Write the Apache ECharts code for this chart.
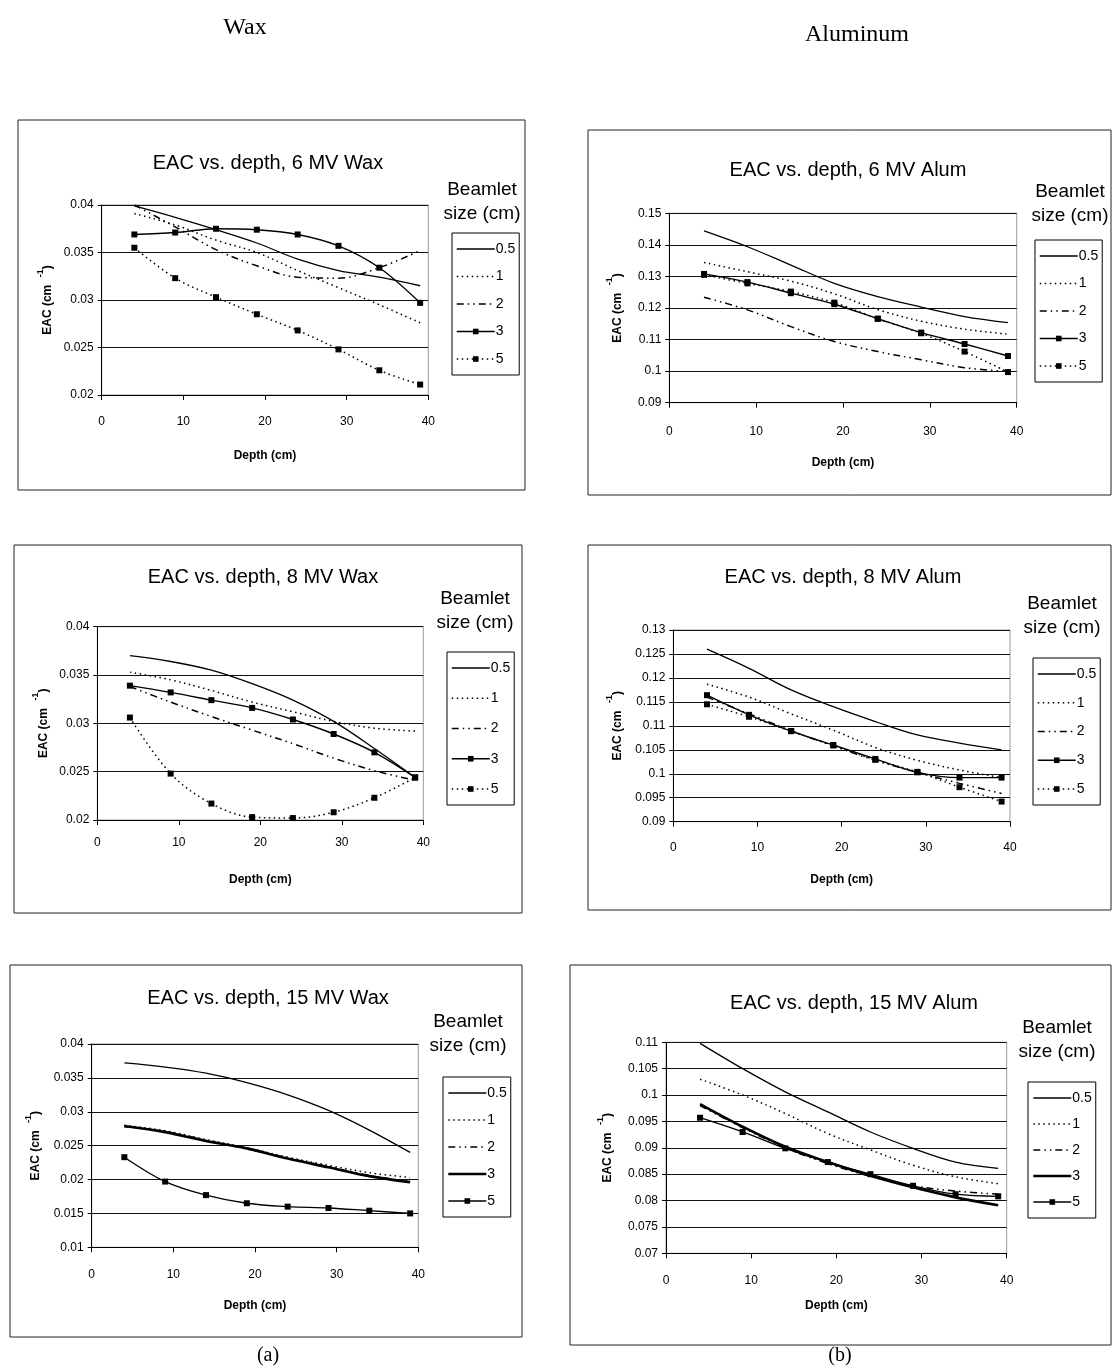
<!DOCTYPE html>
<html>
<head>
<meta charset="utf-8">
<script src="https://cdn.jsdelivr.net/npm/echarts@6/dist/echarts.min.js"></script>
<style>
html,body{margin:0;padding:0;background:#fff;}
#chart{width:1113px;height:1369px;}
</style>
</head>
<body>
<div id="chart"></div>
<script>
// ---------- data ----------
const depth = [4, 9, 14, 19, 24, 29, 34, 39];
const beamletSizes = ['0.5', '1', '2', '3', '5'];
const xTicks = [0, 10, 20, 30, 40];

// 6 MV Wax
const wax6_05 = [0.0399, 0.0387, 0.0374, 0.0360, 0.0343, 0.0331, 0.0324, 0.0315];
const wax6_1  = [0.0391, 0.0379, 0.0363, 0.0350, 0.0331, 0.0313, 0.0295, 0.0276];
const wax6_2  = [0.0400, 0.0377, 0.0353, 0.0336, 0.0324, 0.0323, 0.0334, 0.0352];
const wax6_3  = [0.0369, 0.0371, 0.0375, 0.0374, 0.0369, 0.0357, 0.0334, 0.0297];
const wax6_5  = [0.0355, 0.0323, 0.0303, 0.0285, 0.0268, 0.0248, 0.0226, 0.0211];
// 6 MV Alum
const al6_05 = [0.1444, 0.1394, 0.1336, 0.1278, 0.1236, 0.1203, 0.1173, 0.1154];
const al6_1  = [0.1344, 0.1315, 0.1285, 0.1245, 0.1195, 0.1158, 0.1133, 0.1117];
const al6_2  = [0.1234, 0.1194, 0.1141, 0.1094, 0.1062, 0.1036, 0.1011, 0.0999];
const al6_3  = [0.1308, 0.1282, 0.1247, 0.1212, 0.1166, 0.1122, 0.1086, 0.1048];
const al6_5  = [0.1305, 0.1278, 0.1252, 0.1217, 0.1166, 0.1120, 0.1062, 0.0997];
// 8 MV Wax
const wax8_05 = [0.0370, 0.0364, 0.0355, 0.0341, 0.0324, 0.0302, 0.0274, 0.0244];
const wax8_1  = [0.0353, 0.0345, 0.0334, 0.0322, 0.0312, 0.0302, 0.0295, 0.0292];
const wax8_2  = [0.0338, 0.0322, 0.0307, 0.0293, 0.0279, 0.0264, 0.0251, 0.0241];
const wax8_3  = [0.0339, 0.0332, 0.0324, 0.0316, 0.0304, 0.0289, 0.0270, 0.0244];
const wax8_5  = [0.0306, 0.0248, 0.0217, 0.0203, 0.0202, 0.0208, 0.0223, 0.0244];
// 8 MV Alum
const al8_05 = [0.1260, 0.1220, 0.1175, 0.1140, 0.1109, 0.1081, 0.1064, 0.1050];
const al8_1  = [0.1187, 0.1160, 0.1125, 0.1091, 0.1055, 0.1028, 0.1008, 0.0992];
const al8_2  = [0.1160, 0.1125, 0.1090, 0.1058, 0.1028, 0.1003, 0.0980, 0.0959];
const al8_3  = [0.1164, 0.1123, 0.1089, 0.1060, 0.1031, 0.1003, 0.0992, 0.0992];
const al8_5  = [0.1145, 0.1119, 0.1089, 0.1059, 0.1029, 0.1004, 0.0972, 0.0942];
// 15 MV Wax
const wax15_05 = [0.0372, 0.0366, 0.0357, 0.0343, 0.0325, 0.0302, 0.0273, 0.0240];
const wax15_1  = [0.0280, 0.0272, 0.0259, 0.0247, 0.0233, 0.0221, 0.0210, 0.0203];
const wax15_2  = [0.0278, 0.0271, 0.0258, 0.0245, 0.0232, 0.0219, 0.0206, 0.0197];
const wax15_3  = [0.0279, 0.0270, 0.0257, 0.0246, 0.0231, 0.0218, 0.0205, 0.0196];
const wax15_5  = [0.0233, 0.0197, 0.0177, 0.0165, 0.0160, 0.0158, 0.0154, 0.0150];
// 15 MV Alum
const al15_05 = [0.1098, 0.1050, 0.1006, 0.0968, 0.0930, 0.0899, 0.0873, 0.0861];
const al15_1  = [0.1030, 0.1000, 0.0965, 0.0927, 0.0896, 0.0867, 0.0845, 0.0832];
const al15_2  = [0.0980, 0.0938, 0.0900, 0.0870, 0.0846, 0.0828, 0.0818, 0.0812];
const al15_3  = [0.0983, 0.0940, 0.0902, 0.0873, 0.0847, 0.0825, 0.0806, 0.0791];
const al15_5  = [0.0957, 0.0930, 0.0899, 0.0873, 0.0850, 0.0828, 0.0812, 0.0808];

const panelTitles = ['EAC vs. depth, 6 MV Wax', 'EAC vs. depth, 6 MV Alum',
  'EAC vs. depth, 8 MV Wax', 'EAC vs. depth, 8 MV Alum',
  'EAC vs. depth, 15 MV Wax', 'EAC vs. depth, 15 MV Alum'];
const yMins = [0.02, 0.09, 0.02, 0.09, 0.01, 0.07];
const yMaxs = [0.04, 0.15, 0.04, 0.13, 0.04, 0.11];
const yIntervals = [0.005, 0.01, 0.005, 0.005, 0.005, 0.005];

// ---------- layout / style ----------
const panelData = [
  [wax6_05, wax6_1, wax6_2, wax6_3, wax6_5],
  [al6_05, al6_1, al6_2, al6_3, al6_5],
  [wax8_05, wax8_1, wax8_2, wax8_3, wax8_5],
  [al8_05, al8_1, al8_2, al8_3, al8_5],
  [wax15_05, wax15_1, wax15_2, wax15_3, wax15_5],
  [al15_05, al15_1, al15_2, al15_3, al15_5]
];
const layout = [
  {grid:[101.7,205,326.6,190], box:[18,120,507,370], title:[268,163], beam:[482,190], legend:[452,233,142], xGap:55, yGap:48, lblM:21},
  {grid:[669.3,213.3,347.4,189.4], box:[588,130,523,365], title:[848,170], beam:[1070,192], legend:[1035,240,142], xGap:54, yGap:46, lblM:23},
  {grid:[97.3,626.7,326,193.3], box:[14,545,508,368], title:[263,577], beam:[475,599], legend:[447,652,153], xGap:54, yGap:48, lblM:17},
  {grid:[673.3,630,336.7,191.7], box:[588,545,523,365], title:[843,577], beam:[1062,604], legend:[1033,658,147], xGap:52, yGap:50, lblM:20},
  {grid:[91.7,1044,326.6,203.3], box:[10,965,512,372], title:[268,998], beam:[468,1022], legend:[443,1077,140], xGap:52, yGap:50, lblM:21},
  {grid:[666,1042.3,340.7,211], box:[570,965,541,380], title:[854,1003], beam:[1057,1028], legend:[1028,1082,136], xGap:46, yGap:52, lblM:21}
];
const DOT = [1.5, 3.5];
const DASHDOT = [7, 4, 1.5, 4, 1.5, 4];
function styleFor(p, k) {
  const heavy = p >= 4;
  const base = [
    {type: 'solid', sym: 'none', w: 1.3},
    {type: DOT, sym: 'none', w: 1.5},
    {type: DASHDOT, sym: 'none', w: 1.5},
    heavy ? {type: 'solid', sym: 'none', w: 2.6} : {type: 'solid', sym: 'rect', w: 1.4},
    heavy ? {type: 'solid', sym: 'rect', w: 1.3} : {type: DOT, sym: 'rect', w: 1.5}
  ];
  return base[k];
}

const font = '"Liberation Sans", Arial, sans-serif';
const grids = [], xAxes = [], yAxes = [], series = [], legends = [], graphics = [];
const LEG_ITEM_H = 16;

layout.forEach((L, p) => {
  grids.push({left: L.grid[0], top: L.grid[1], width: L.grid[2], height: L.grid[3],
    show: true, borderColor: '#9a9a9a', borderWidth: 1, backgroundColor: 'transparent'});
  xAxes.push({type: 'value', gridIndex: p, min: xTicks[0], max: xTicks[xTicks.length - 1], interval: 10,
    name: 'Depth (cm)', nameLocation: 'middle', nameGap: L.xGap,
    nameTextStyle: {fontFamily: font, fontSize: 12, fontWeight: 'bold', color: '#000'},
    axisLine: {onZero: false, lineStyle: {color: '#000', width: 1}},
    axisTick: {show: true, inside: false, length: 5, lineStyle: {color: '#000'}},
    axisLabel: {fontFamily: font, fontSize: 12, color: '#000', margin: L.lblM},
    splitLine: {show: false}});
  yAxes.push({type: 'value', gridIndex: p, min: yMins[p], max: yMaxs[p], interval: yIntervals[p],
    name: '{b|EAC (cm}{s|   -1}{b|)}', nameLocation: 'middle', nameGap: L.yGap, nameRotate: 90,
    nameTextStyle: {rich: {
      b: {fontFamily: font, fontSize: 12, fontWeight: 'bold', color: '#000', verticalAlign: 'bottom', lineHeight: 18},
      s: {fontFamily: font, fontSize: 9, fontWeight: 'bold', color: '#000', verticalAlign: 'top', lineHeight: 18}
    }},
    axisLine: {show: true, lineStyle: {color: '#000', width: 1}},
    axisTick: {show: true, length: 4, lineStyle: {color: '#000'}},
    axisLabel: {fontFamily: font, fontSize: 12, color: '#000', margin: 8,
      formatter: v => String(+v.toFixed(4))},
    splitLine: {show: true, lineStyle: {color: '#111', width: 1}}});

  const legendItems = [];
  beamletSizes.forEach((b, k) => {
    const st = styleFor(p, k);
    const nm = 'p' + p + ':' + b;
    const item = {name: nm, lineStyle: {width: st.w, color: '#000', type: st.type}};
    if (st.sym === 'none') item.itemStyle = {color: 'rgba(0,0,0,0)', borderColor: 'rgba(0,0,0,0)', borderWidth: 0};
    legendItems.push(item);
    series.push({
      name: nm, type: 'line', xAxisIndex: p, yAxisIndex: p,
      data: depth.map((d, i) => [d, panelData[p][k][i]]),
      smooth: 0.35,
      symbol: st.sym, symbolSize: 6, showSymbol: st.sym !== 'none',
      itemStyle: {color: '#000'},
      lineStyle: {color: '#000', width: st.w, type: st.type},
      z: 3, animation: false
    });
  });
  const gap = (L.legend[2] - 16 - 5 * LEG_ITEM_H) / 4;
  legends.push({
    data: legendItems, orient: 'vertical', left: L.legend[0], top: L.legend[1],
    itemWidth: 38, itemHeight: 7, itemGap: gap,
    padding: [8, 4, 8, 4], borderColor: '#000', borderWidth: 1,
    formatter: n => n.split(':')[1], selectedMode: false,
    textStyle: {fontFamily: font, fontSize: 14, color: '#000', lineHeight: LEG_ITEM_H, padding: [0, 0, 0, -4]}
  });

  // panel frame, title and legend header
  graphics.push({type: 'rect', silent: true, shape: {x: L.box[0], y: L.box[1], width: L.box[2], height: L.box[3]},
    style: {fill: 'none', stroke: '#222', lineWidth: 1}});
  graphics.push({type: 'text', silent: true, x: L.title[0], y: L.title[1],
    style: {text: panelTitles[p], font: '20px ' + font, fill: '#000', align: 'center', verticalAlign: 'middle'}});
  graphics.push({type: 'text', silent: true, x: L.beam[0], y: L.beam[1] - 12,
    style: {text: 'Beamlet\nsize (cm)', font: '19px ' + font, fill: '#000', align: 'center', verticalAlign: 'top', lineHeight: 24}});
});

const serif = '"Liberation Serif", "Times New Roman", serif';
graphics.push({type: 'text', silent: true, x: 245, y: 28,
  style: {text: 'Wax', font: '24px ' + serif, fill: '#000', align: 'center', verticalAlign: 'middle'}});
graphics.push({type: 'text', silent: true, x: 857, y: 35,
  style: {text: 'Aluminum', font: '24px ' + serif, fill: '#000', align: 'center', verticalAlign: 'middle'}});
graphics.push({type: 'text', silent: true, x: 268, y: 1356,
  style: {text: '(a)', font: '20px ' + serif, fill: '#000', align: 'center', verticalAlign: 'middle'}});
graphics.push({type: 'text', silent: true, x: 840, y: 1356,
  style: {text: '(b)', font: '20px ' + serif, fill: '#000', align: 'center', verticalAlign: 'middle'}});

const chart = echarts.init(document.getElementById('chart'), null, {renderer: 'canvas'});
chart.setOption({
  animation: false,
  backgroundColor: '#fff',
  grid: grids, xAxis: xAxes, yAxis: yAxes, series: series, legend: legends,
  graphic: graphics
});
</script>
</body>
</html>
